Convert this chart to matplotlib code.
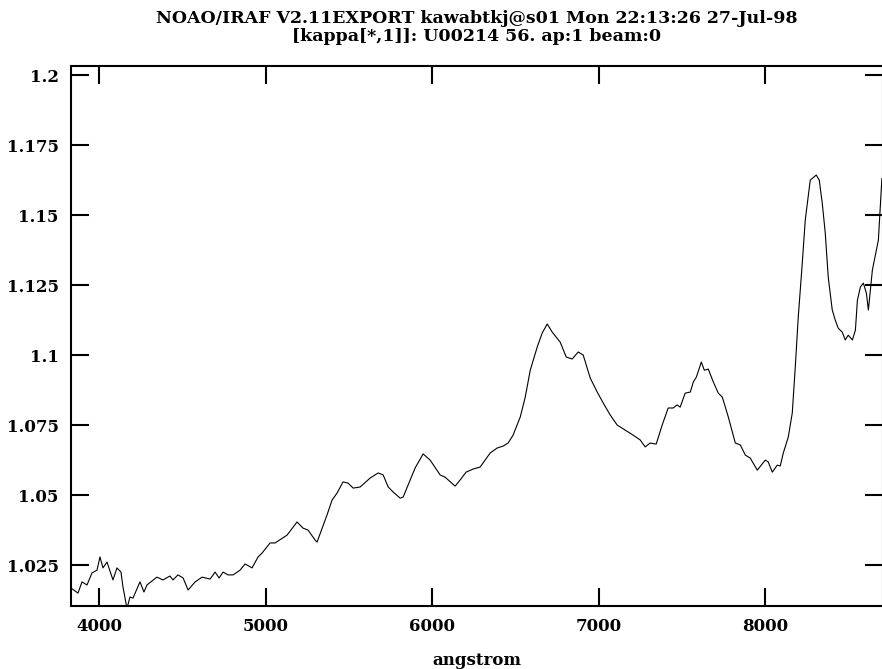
import numpy as np
import matplotlib
matplotlib.use('Agg')
import matplotlib.pyplot as plt
from matplotlib.ticker import FuncFormatter

# Longitud de onda (angstrom) y valor de kappa
wavelength = [3832, 3874, 3898, 3928, 3958, 3988, 4006, 4024, 4048, 4084,
              4108, 4132, 4144, 4168, 4186, 4204, 4246, 4270, 4288, 4348,
              4384, 4426, 4444, 4474, 4505, 4535, 4577, 4619, 4667, 4697,
              4721, 4745, 4775, 4805, 4847, 4877, 4919, 4955, 4979, 5027,
              5057, 5129, 5189, 5225, 5255, 5297, 5309, 5369, 5399, 5429,
              5465, 5495, 5526, 5568, 5628, 5676, 5706, 5736, 5766, 5808,
              5826, 5856, 5898, 5946, 5988, 6048, 6078, 6138, 6168, 6204,
              6246, 6288, 6348, 6390, 6426, 6456, 6486, 6529, 6559, 6589,
              6631, 6661, 6691, 6721, 6769, 6805, 6841, 6877, 6907, 6949,
              6991, 7027, 7069, 7111, 7159, 7207, 7249, 7279, 7309, 7345,
              7381, 7417, 7447, 7471, 7489, 7519, 7550, 7568, 7586, 7616,
              7634, 7658, 7688, 7718, 7742, 7778, 7820, 7850, 7880, 7910,
              7952, 8000, 8018, 8042, 8072, 8090, 8108, 8138, 8162, 8180,
              8198, 8222, 8240, 8270, 8306, 8324, 8342, 8360, 8378, 8402,
              8420, 8438, 8462, 8480, 8498, 8523, 8541, 8553, 8571, 8589,
              8607, 8619, 8643, 8661, 8679, 8700]
kappa = [1.0168, 1.0150, 1.0190, 1.0179, 1.0222, 1.0232, 1.0279, 1.0240, 1.0261, 1.0197,
         1.0240, 1.0225, 1.0172, 1.0095, 1.0136, 1.0132, 1.0190, 1.0154, 1.0179, 1.0207,
         1.0197, 1.0211, 1.0197, 1.0215, 1.0204, 1.0161, 1.0190, 1.0207, 1.0200, 1.0225,
         1.0204, 1.0225, 1.0215, 1.0215, 1.0232, 1.0254, 1.0240, 1.0279, 1.0293, 1.0329,
         1.0329, 1.0357, 1.0404, 1.0382, 1.0375, 1.0340, 1.0332, 1.0429, 1.0482, 1.0507,
         1.0547, 1.0543, 1.0525, 1.0529, 1.0561, 1.0579, 1.0572, 1.0529, 1.0511, 1.0489,
         1.0493, 1.0536, 1.0597, 1.0647, 1.0625, 1.0572, 1.0564, 1.0532, 1.0554, 1.0582,
         1.0593, 1.0600, 1.0650, 1.0668, 1.0675, 1.0686, 1.0714, 1.0779, 1.0850, 1.0946,
         1.1029, 1.1079, 1.1111, 1.1082, 1.1046, 1.0993, 1.0986, 1.1011, 1.1000, 1.0918,
         1.0868, 1.0829, 1.0786, 1.0750, 1.0732, 1.0714, 1.0697, 1.0672, 1.0686, 1.0682,
         1.0750, 1.0811, 1.0811, 1.0822, 1.0814, 1.0864, 1.0868, 1.0904, 1.0921, 1.0975,
         1.0946, 1.0950, 1.0904, 1.0864, 1.0850, 1.0779, 1.0686, 1.0679, 1.0643, 1.0632,
         1.0589, 1.0625, 1.0618, 1.0582, 1.0607, 1.0604, 1.0650, 1.0707, 1.0793, 1.0957,
         1.1136, 1.1328, 1.1482, 1.1625, 1.1643, 1.1625, 1.1543, 1.1436, 1.1278, 1.1161,
         1.1125, 1.1096, 1.1082, 1.1054, 1.1071, 1.1054, 1.1089, 1.1196, 1.1243, 1.1257,
         1.1221, 1.1161, 1.1304, 1.1357, 1.1411, 1.1630]

xticks = [4000, 5000, 6000, 7000, 8000]
yticks = [1.025, 1.05, 1.075, 1.1, 1.125, 1.15, 1.175, 1.2]

titulo = ('NOAO/IRAF V2.11EXPORT kawabtkj@s01 Mon 22:13:26 27-Jul-98\n'
          '[kappa[*,1]]: U00214 56. ap:1 beam:0')

plt.rcParams['font.family'] = ['DejaVu Serif']

fig = plt.figure(figsize=(8.82, 6.69), dpi=100)
# el borde derecho del marco queda justo fuera de la imagen, como en la original
ax = fig.add_axes([0.0805, 0.0942, 0.9205, 0.807])

ax.plot(wavelength, kappa, color='black', linewidth=0.8)

ax.set_xlim(3832, 8706)
ax.set_ylim(1.0104, 1.2032)
ax.set_xticks(xticks)
ax.set_yticks(yticks)
ax.yaxis.set_major_formatter(FuncFormatter(lambda v, p: '%g' % v))
ax.tick_params(direction='in', length=13, width=1.5, top=True, right=True,
               labelsize=12, pad=9)
for lab in ax.get_xticklabels() + ax.get_yticklabels():
    lab.set_fontweight('bold')
for s in ax.spines.values():
    s.set_linewidth(1.5)

ax.set_title(titulo, fontsize=12.5, fontweight='bold', linespacing=1.05, pad=18)
ax.set_xlabel('angstrom', fontsize=12, fontweight='bold', labelpad=12)

fig.savefig('out.png', dpi=100)
